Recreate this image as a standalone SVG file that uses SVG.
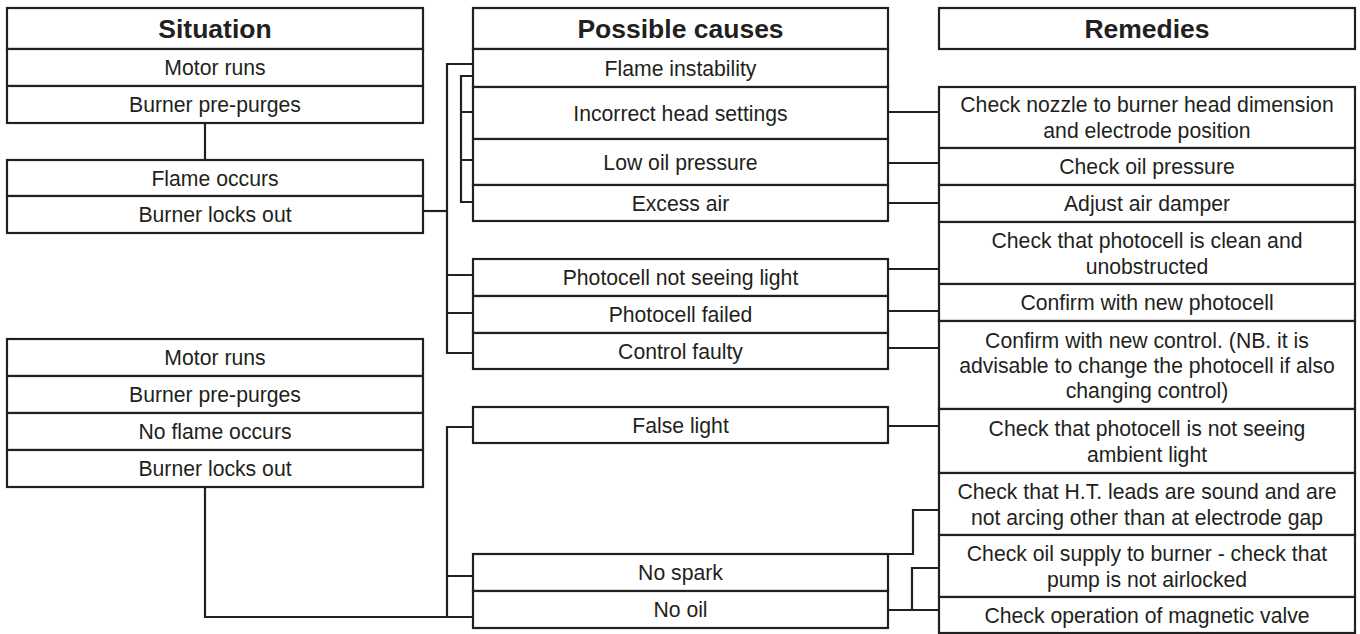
<svg xmlns="http://www.w3.org/2000/svg" width="1360" height="634" viewBox="0 0 1360 634">
<style>
rect{fill:#fff;stroke:#231f20;stroke-width:2.2}
text{font-family:"Liberation Sans",Arial,sans-serif;font-size:21.2px;fill:#231f20;text-anchor:middle}
text.h{font-weight:bold;font-size:26.5px}
#connectors path{fill:none;stroke:#231f20;stroke-width:2.2}
</style>
<rect x="0" y="0" width="1360" height="634" style="stroke:none"/>
<g id="connectors">
<path d="M205,123V160"/>
<path d="M423,211H447"/>
<path d="M473,64H447V353H473M447,275H473M447,313H473"/>
<path d="M473,76H461V202H473M461,112H473M461,160H473"/>
<path d="M205,487V617H473M447,617V427H473M447,576H473"/>
<path d="M888,112H939M888,163H939M888,203H939M888,269H939M888,311H939M888,348H939M888,426H939"/>
<path d="M888,554H913V510H939"/>
<path d="M888,610H939M912,610V568H939"/>
</g>
<g id="sit-header"><rect x="7" y="8" width="416" height="41"/><text class="h" x="215" y="38">Situation</text></g>
<g id="sit1-motor"><rect x="7" y="49" width="416" height="37"/><text x="215" y="75">Motor runs</text></g>
<g id="sit1-purge"><rect x="7" y="86" width="416" height="37"/><text x="215" y="112">Burner pre-purges</text></g>
<g id="sit1-flame"><rect x="7" y="160" width="416" height="36"/><text x="215" y="185.5">Flame occurs</text></g>
<g id="sit1-lock"><rect x="7" y="196" width="416" height="37"/><text x="215" y="222">Burner locks out</text></g>
<g id="sit2-motor"><rect x="7" y="339" width="416" height="37"/><text x="215" y="365">Motor runs</text></g>
<g id="sit2-purge"><rect x="7" y="376" width="416" height="37"/><text x="215" y="402">Burner pre-purges</text></g>
<g id="sit2-noflame"><rect x="7" y="413" width="416" height="37"/><text x="215" y="439">No flame occurs</text></g>
<g id="sit2-lock"><rect x="7" y="450" width="416" height="37"/><text x="215" y="476">Burner locks out</text></g>

<g id="cause-header"><rect x="473" y="8" width="415" height="41"/><text class="h" x="680.5" y="38">Possible causes</text></g>
<g id="cause-instab"><rect x="473" y="49" width="415" height="38"/><text x="680.5" y="75.5">Flame instability</text></g>
<g id="cause-head"><rect x="473" y="87" width="415" height="52"/><text x="680.5" y="120.5">Incorrect head settings</text></g>
<g id="cause-lowoil"><rect x="473" y="139" width="415" height="46"/><text x="680.5" y="169.5">Low oil pressure</text></g>
<g id="cause-air"><rect x="473" y="185" width="415" height="36"/><text x="680.5" y="210.5">Excess air</text></g>
<g id="cause-photo"><rect x="473" y="259" width="415" height="37"/><text x="680.5" y="285">Photocell not seeing light</text></g>
<g id="cause-photofail"><rect x="473" y="296" width="415" height="37"/><text x="680.5" y="322">Photocell failed</text></g>
<g id="cause-control"><rect x="473" y="333" width="415" height="36"/><text x="680.5" y="358.5">Control faulty</text></g>
<g id="cause-false"><rect x="473" y="407" width="415" height="36"/><text x="680.5" y="432.5">False light</text></g>
<g id="cause-spark"><rect x="473" y="554" width="415" height="37"/><text x="680.5" y="580">No spark</text></g>
<g id="cause-oil"><rect x="473" y="591" width="415" height="37"/><text x="680.5" y="617">No oil</text></g>

<g id="rem-header"><rect x="939" y="8" width="416" height="41"/><text class="h" x="1147" y="38">Remedies</text></g>
<g id="rem-nozzle"><rect x="939" y="87" width="416" height="61"/><text x="1147" y="112">Check nozzle to burner head dimension</text><text x="1147" y="138">and electrode position</text></g>
<g id="rem-pressure"><rect x="939" y="148" width="416" height="37"/><text x="1147" y="174">Check oil pressure</text></g>
<g id="rem-damper"><rect x="939" y="185" width="416" height="37"/><text x="1147" y="211">Adjust air damper</text></g>
<g id="rem-clean"><rect x="939" y="222" width="416" height="62"/><text x="1147" y="247.5">Check that photocell is clean and</text><text x="1147" y="273.5">unobstructed</text></g>
<g id="rem-newphoto"><rect x="939" y="284" width="416" height="37"/><text x="1147" y="310">Confirm with new photocell</text></g>
<g id="rem-newcontrol"><rect x="939" y="321" width="416" height="88"/><text x="1147" y="347.5">Confirm with new control. (NB. it is</text><text x="1147" y="372.5">advisable to change the photocell if also</text><text x="1147" y="397.5">changing control)</text></g>
<g id="rem-ambient"><rect x="939" y="409" width="416" height="64"/><text x="1147" y="435.5">Check that photocell is not seeing</text><text x="1147" y="461.5">ambient light</text></g>
<g id="rem-leads"><rect x="939" y="473" width="416" height="62"/><text x="1147" y="498.5">Check that H.T. leads are sound and are</text><text x="1147" y="524.5">not arcing other than at electrode gap</text></g>
<g id="rem-supply"><rect x="939" y="535" width="416" height="62"/><text x="1147" y="560.5">Check oil supply to burner - check that</text><text x="1147" y="586.5">pump is not airlocked</text></g>
<g id="rem-valve"><rect x="939" y="597" width="416" height="36"/><text x="1147" y="622.5">Check operation of magnetic valve</text></g>
</svg>
